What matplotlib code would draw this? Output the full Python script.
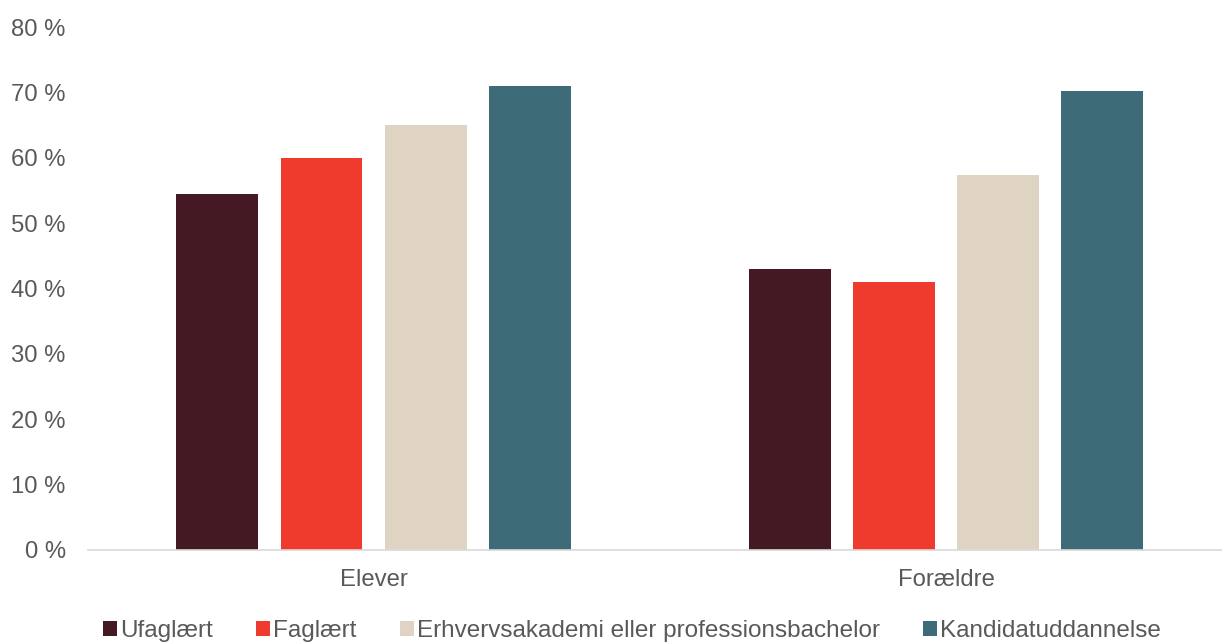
import matplotlib
matplotlib.use("Agg")
import matplotlib.pyplot as plt
import numpy as np

# ── Data ───────────────────────────────────────────────────────
groups = ["Elever", "Forældre"]
series = ["Ufaglært", "Faglært", "Erhvervsakademi eller professionsbachelor", "Kandidatuddannelse"]
ufaglaert = [54.4, 43.0]
faglaert = [60.0, 41.0]
erhverv = [65.0, 57.3]
kandidat = [71.0, 70.2]
values = [ufaglaert, faglaert, erhverv, kandidat]
colors = ["#451924", "#EE3B2E", "#DFD3C3", "#3D6B78"]

plt.rcParams["font.family"] = ["Liberation Sans", "DejaVu Sans"]
text_color = "#595959"
fs = 17.2

fig = plt.figure(figsize=(12.22, 6.42), dpi=100)
ax = fig.add_axes([88 / 1222, 1 - 550 / 642, 1 - 88 / 1222, (550 - 27) / 642])

x = np.arange(len(groups))
width = 0.143
step = 0.182
for i, (name, vals, c) in enumerate(zip(series, values, colors)):
    ax.bar(x + (i - 1.5) * step, vals, width=width, color=c, label=name)

ax.set_xlim(-0.499, 1.482)
ax.set_ylim(0, 80)
ax.set_yticks(range(0, 81, 10))
ax.set_yticklabels([f"{v} %" for v in range(0, 81, 10)])
ax.set_xticks(x)
ax.set_xticklabels(groups)
ax.tick_params(axis="both", length=0, labelsize=fs, colors=text_color)
ax.tick_params(axis="x", pad=14)
ax.tick_params(axis="y", pad=16)
for s in ["top", "right", "left"]:
    ax.spines[s].set_visible(False)
ax.spines["bottom"].set_color("#d9d9d9")
ax.spines["bottom"].set_linewidth(1.2)

leg = fig.legend(loc="lower left", bbox_to_anchor=(81 / 1222, -0.034), ncol=4, frameon=False,
                 fontsize=17.5, handlelength=0.58, handleheight=0.58, handletextpad=0.12,
                 columnspacing=1.78, labelcolor=text_color)

plt.savefig("out.png", dpi=100)
